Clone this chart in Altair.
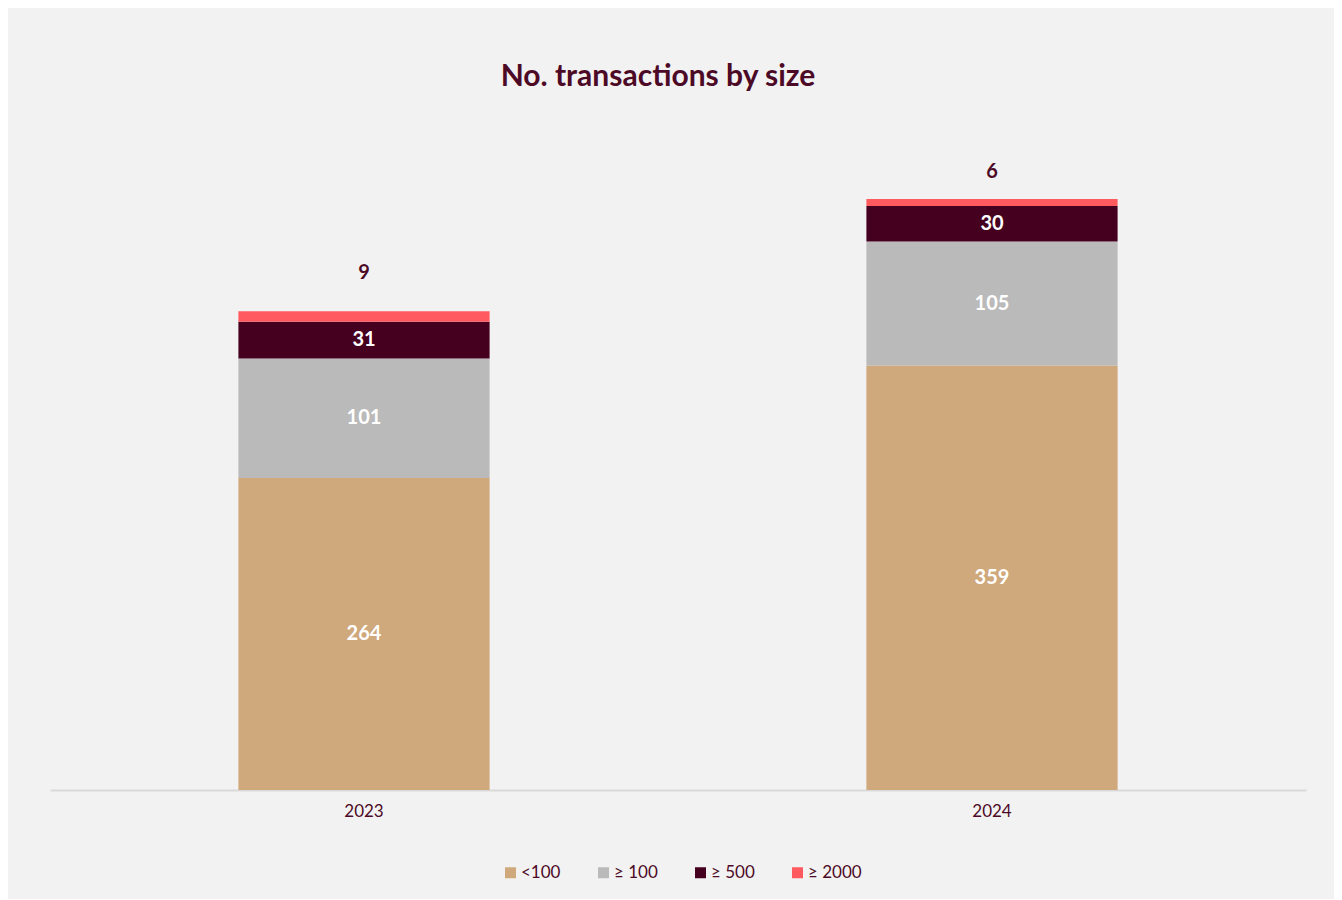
import altair as alt
import pandas as pd

years = ["2023", "2024"]
categories = ["<100", "≥ 100", "≥ 500", "≥ 2000"]
lt100 = [264, 359]
ge100 = [101, 105]
ge500 = [31, 30]
ge2000 = [9, 6]
colors = ["#cfa87b", "#bababa", "#46001f", "#ff5a5f"]

TEXT = "#4d0a26"
FONT = "Lato"

rows = []
for ci, (cat, vals) in enumerate(zip(categories, [lt100, ge100, ge500, ge2000])):
    for yr, v in zip(years, vals):
        rows.append({"year": yr, "size": cat, "idx": ci, "value": v})
df = pd.DataFrame(rows)

base = alt.Chart(df).transform_stack(
    stack="value", groupby=["year"], as_=["v0", "v1"],
    sort=[alt.SortField("idx", order="ascending")]
).transform_calculate(mid="(datum.v0 + datum.v1) / 2")

xenc = alt.X(
    "year:N", title=None,
    scale=alt.Scale(paddingInner=0.6, paddingOuter=0.3),
    axis=alt.Axis(domainColor="#d9d9d9", domainWidth=2, ticks=False,
                  labelFontSize=17, labelColor=TEXT, labelFont=FONT,
                  labelPadding=13, labelAngle=0, grid=False),
)
yscale = alt.Scale(domain=[0, 560], nice=False)

bars = base.mark_bar().encode(
    x=xenc,
    y=alt.Y("v0:Q", scale=yscale, axis=None),
    y2="v1:Q",
    color=alt.Color(
        "size:N",
        scale=alt.Scale(domain=categories, range=colors),
        legend=alt.Legend(
            title=None, orient="none", direction="horizontal",
            legendX=452, legendY=736, symbolType="square", symbolSize=121,
            symbolStrokeWidth=0, labelFontSize=17, labelColor=TEXT,
            labelFont=FONT, labelOffset=2, columnPadding=34, padding=0,
        ),
    ),
)

inner = base.transform_filter("datum.idx < 3").mark_text(
    color="white", fontSize=20, fontWeight="bold", font=FONT, baseline="middle"
).encode(x="year:N", y=alt.Y("mid:Q", scale=yscale), text="value:Q")

top23 = base.transform_filter("datum.idx == 3 && datum.year == '2023'").mark_text(
    color=TEXT, fontSize=20, fontWeight="bold", font=FONT, baseline="middle", dy=-38
).encode(x="year:N", y=alt.Y("v1:Q", scale=yscale), text="value:Q")

top24 = base.transform_filter("datum.idx == 3 && datum.year == '2024'").mark_text(
    color=TEXT, fontSize=20, fontWeight="bold", font=FONT, baseline="middle", dy=-27
).encode(x="year:N", y=alt.Y("v1:Q", scale=yscale), text="value:Q")

chart = alt.layer(bars, inner, top23, top24).properties(
    width=1256, height=662,
    title=alt.TitleParams("No. transactions by size", fontSize=30, font=FONT,
                          fontWeight="bold", color=TEXT, anchor="middle",
                          dx=-20, offset=36),
    padding={"left": 42, "right": 28, "top": 54, "bottom": 18},
    background="#f2f2f2",
).configure_view(stroke=None)

chart.save("out.html", embed_options={"renderer": "svg", "actions": False})
